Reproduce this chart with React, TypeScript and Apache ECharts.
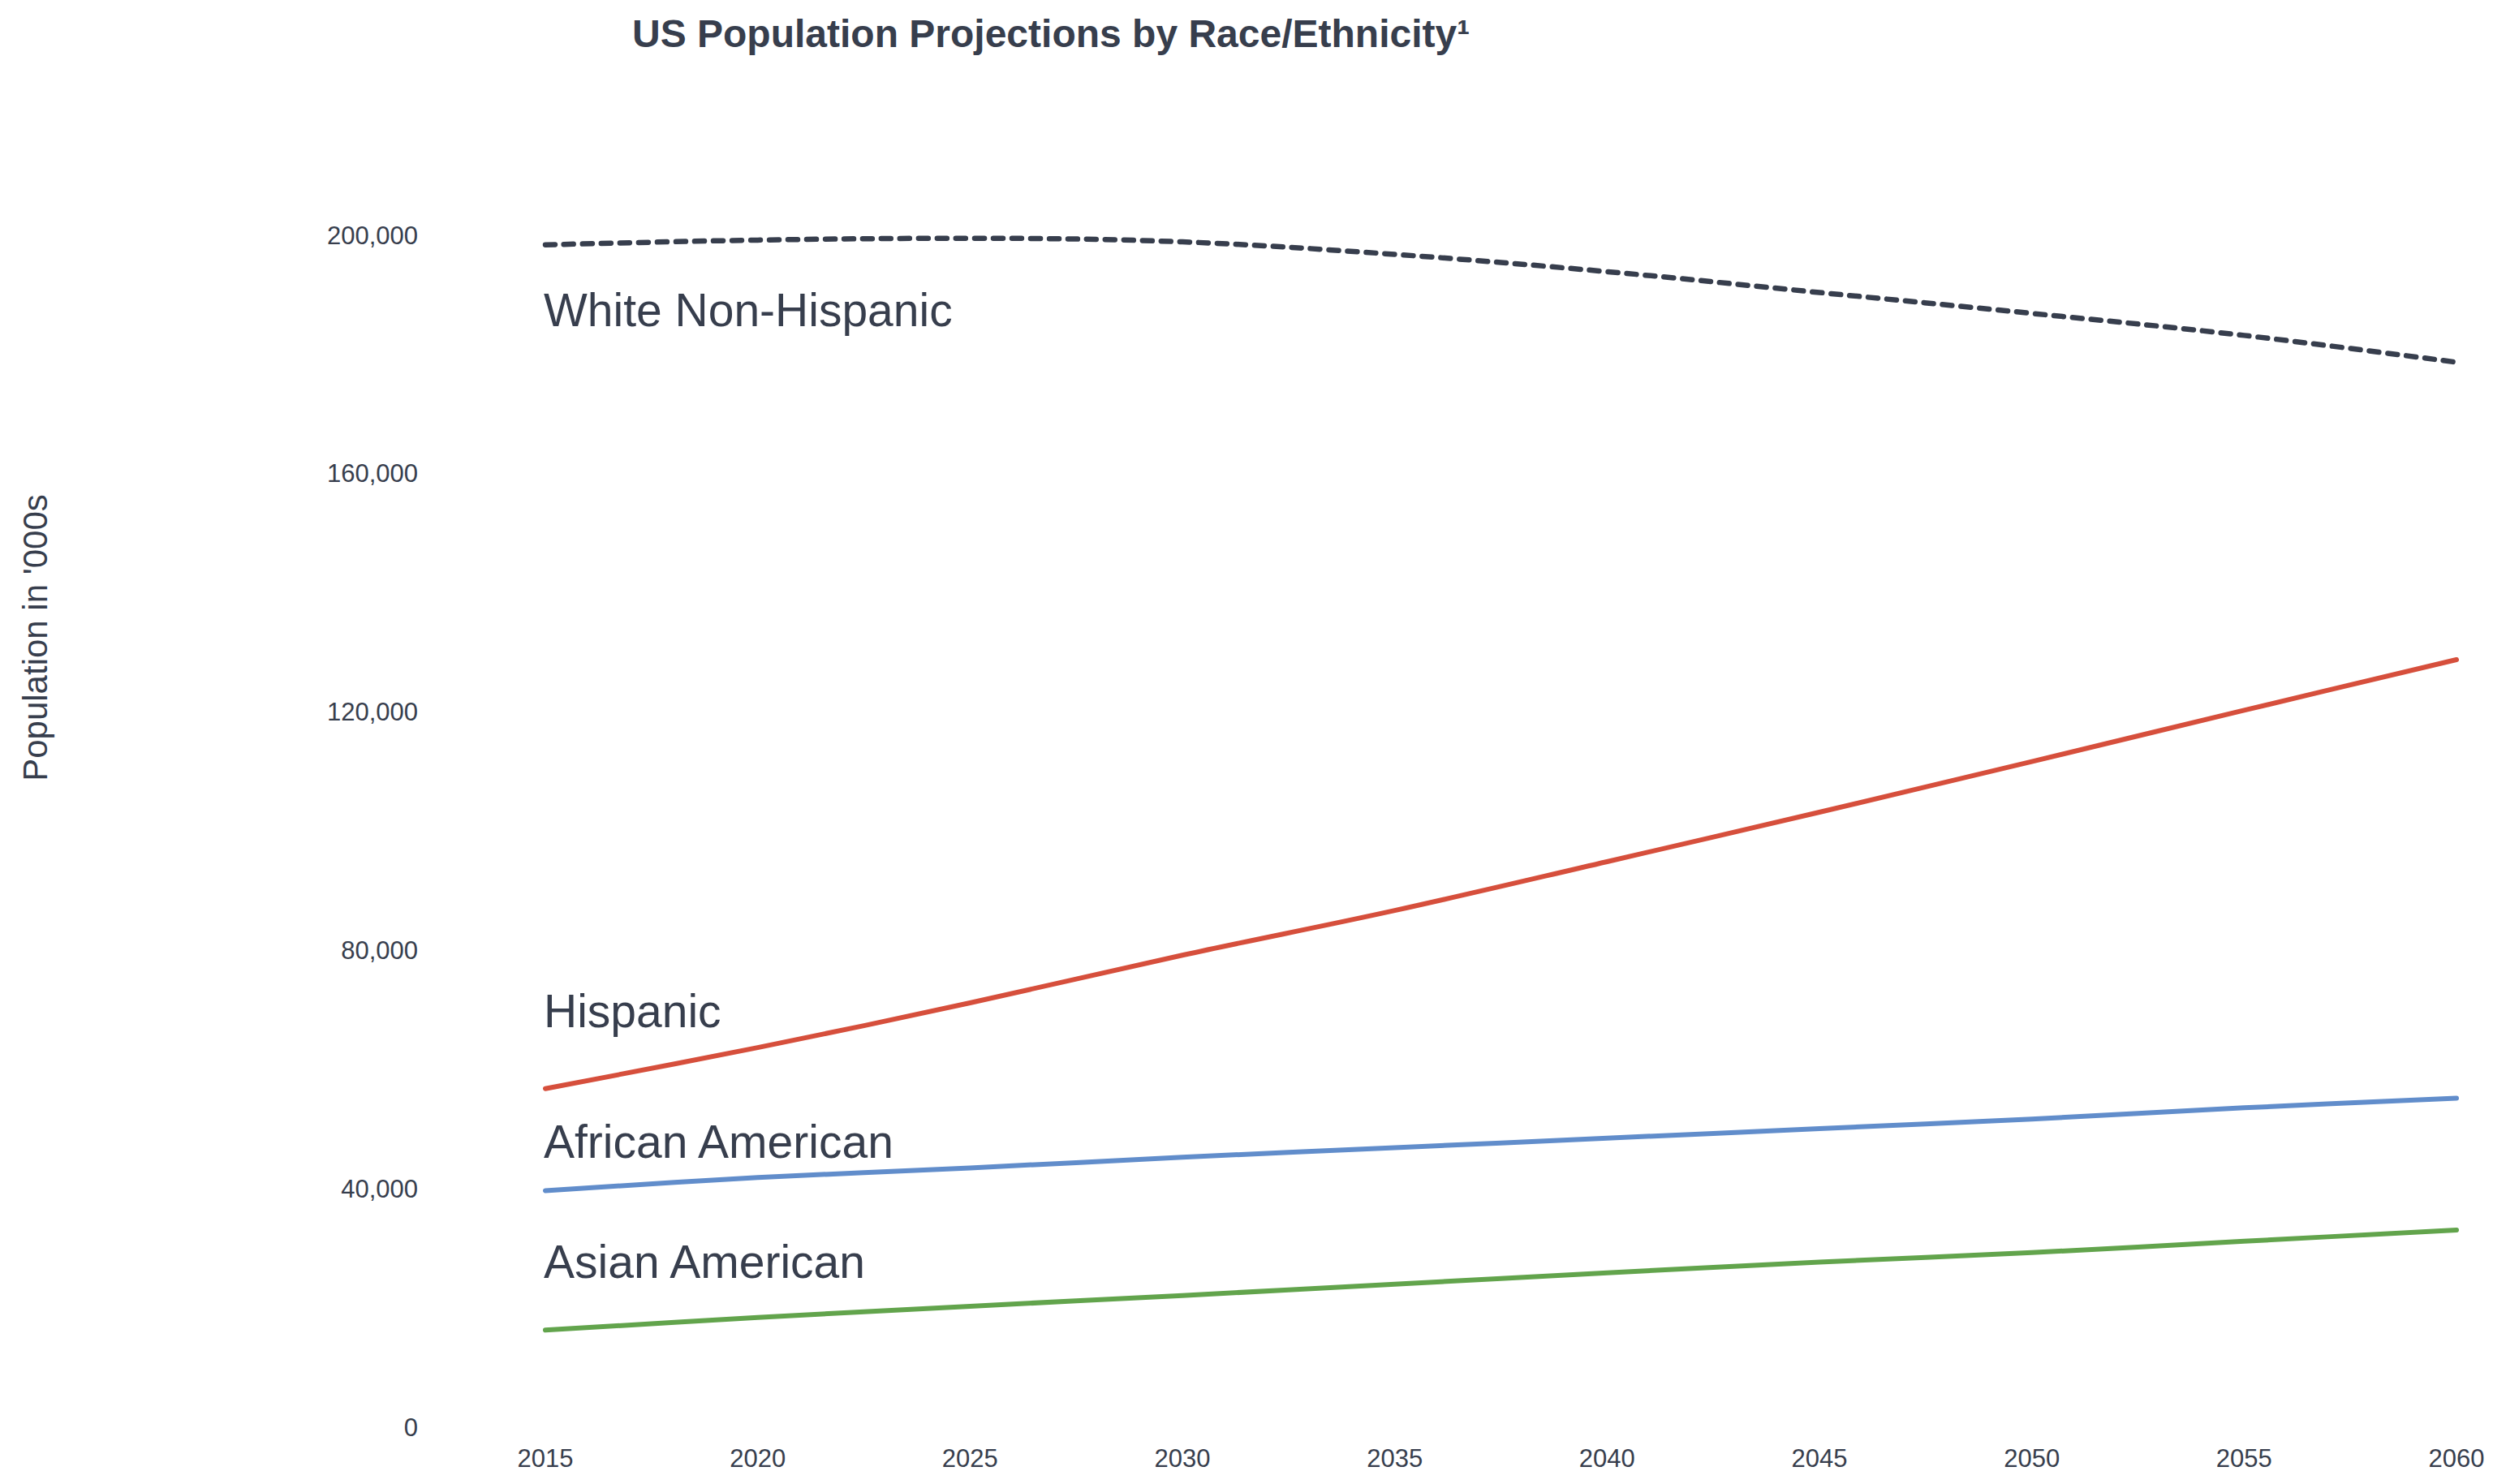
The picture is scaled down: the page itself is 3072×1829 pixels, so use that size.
import React, { useEffect, useRef } from "react";
import * as echarts from "echarts";

const years = [2015, 2020, 2025, 2030, 2035, 2040, 2045, 2050, 2055, 2060];
const whiteNonHispanic = [198400, 199200, 199500, 198900, 196800, 193900, 190400, 186900, 183200, 178700];
const hispanic = [56800, 63700, 71200, 79200, 86700, 94900, 103200, 111700, 120300, 128800];
const africanAmerican = [39700, 41900, 43500, 45300, 46900, 48500, 50100, 51700, 53600, 55200];
const asianAmerican = [16300, 18400, 20300, 22100, 24000, 25900, 27700, 29300, 31200, 33100];

const seriesNames = ["White Non-Hispanic", "Hispanic", "African American", "Asian American"];
// value (in '000s) at which each series label's text centre sits, at the first year
const labelValues = [187500, 69800, 47900, 27800];

const yMin = 0;
const yMax = 200000;
const yInterval = 40000;
const xMin = 2015;
const xMax = 2060;
const xInterval = 5;

const TEXT = "#373e4d";
const FONT = "'Liberation Sans', Arial, Helvetica, sans-serif";

export default function App() {
  const ref = useRef<HTMLDivElement>(null);

  useEffect(() => {
    if (!ref.current) return;
    const chart = echarts.init(ref.current, undefined, { renderer: "svg" });
    const mk = (vals: number[]) => years.map((y, i) => [y, vals[i]]);
    const colors = [TEXT, "#d64f3c", "#618dcb", "#62a44c"];
    const datas = [whiteNonHispanic, hispanic, africanAmerican, asianAmerican];

    chart.setOption({
      animation: false,
      backgroundColor: "#ffffff",
      textStyle: { fontFamily: FONT, color: TEXT },
      title: {
        text: "US Population Projections by Race/Ethnicity\u00b9",
        left: 774,
        top: 12,
        textStyle: { fontFamily: FONT, fontSize: 48, fontWeight: "bold", color: TEXT },
      },
      grid: { left: 672, right: 45, top: 290, bottom: 70, containLabel: false },
      xAxis: {
        type: "value",
        min: xMin,
        max: xMax,
        interval: xInterval,
        axisLine: { show: false },
        axisTick: { show: false },
        splitLine: { show: false },
        axisLabel: {
          margin: 23,
          fontSize: 31,
          color: TEXT,
          fontFamily: FONT,
          formatter: (v: number) => String(v),
        },
      },
      yAxis: {
        type: "value",
        min: yMin,
        max: yMax,
        interval: yInterval,
        axisLine: { show: false },
        axisTick: { show: false },
        splitLine: { show: false },
        axisLabel: {
          margin: 157,
          fontSize: 31,
          color: TEXT,
          fontFamily: FONT,
          formatter: (v: number) => v.toLocaleString("en-US"),
        },
      },
      series: datas.map((d, i) => ({
        name: seriesNames[i],
        type: "line",
        data: mk(d),
        smooth: 0.35,
        showSymbol: false,
        symbol: "none",
        lineStyle: {
          color: colors[i],
          width: i === 0 ? 6.5 : 6,
          cap: "round",
          join: "round",
          type: i === 0 ? [12, 11] : "solid",
        },
        z: 2,
      })),
    });

    const graphics: any[] = [
      {
        type: "text",
        x: 43,
        y: 786,
        rotation: Math.PI / 2,
        style: {
          text: "Population in '000s",
          fontSize: 42,
          fontFamily: FONT,
          fill: TEXT,
          align: "center",
          verticalAlign: "middle",
        },
      },
    ];
    seriesNames.forEach((name, i) => {
      const p = chart.convertToPixel({ gridIndex: 0 }, [years[0], labelValues[i]]) as number[];
      graphics.push({
        type: "text",
        x: p[0] - 2,
        y: p[1],
        style: {
          text: name,
          fontSize: 57,
          fontFamily: FONT,
          fill: TEXT,
          align: "left",
          verticalAlign: "middle",
        },
      });
    });
    chart.setOption({ graphic: graphics });

    return () => chart.dispose();
  }, []);

  return (
    <div
      ref={ref}
      style={{ position: "fixed", left: 0, top: 0, width: "3072px", height: "1829px", background: "#fff" }}
    />
  );
}
